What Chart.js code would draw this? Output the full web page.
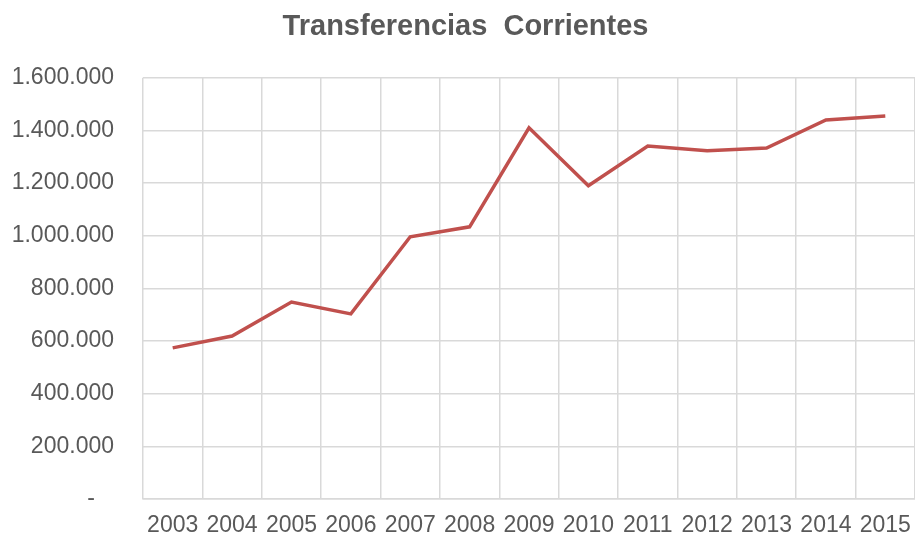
<!DOCTYPE html>
<html>
<head>
<meta charset="utf-8">
<script src="https://cdn.jsdelivr.net/npm/chart.js@4"></script>
<style>
  html, body { margin: 0; padding: 0; background: #fff; }
  #wrap { width: 915px; height: 538px; }
</style>
</head>
<body>
<div id="wrap"><canvas id="grafica" width="915" height="538"></canvas></div>
<script>
// datos
const anios = ['2003', '2004', '2005', '2006', '2007', '2008', '2009', '2010', '2011', '2012', '2013', '2014', '2015'];
const transferencias = [574000, 619000, 748000, 703000, 996000, 1034000, 1410000, 1190000, 1341000, 1323000, 1333000, 1440000, 1455000];
const ticksY = [0, 200000, 400000, 600000, 800000, 1000000, 1200000, 1400000, 1600000];

const gris = '#595959';

function formatoMiles(v) {
    if (v === 0) return '-   ';
    return v.toString().replace(/\B(?=(\d{3})+(?!\d))/g, '.');
}

const ctx = document.getElementById('grafica').getContext('2d');
new Chart(ctx, {
    type: 'line',
    data: {
        labels: anios,
        datasets: [{
            data: transferencias,
            borderColor: '#c0504d',
            borderWidth: 3.5,
            pointRadius: 0,
            tension: 0,
            fill: false
        }]
    },
    options: {
        responsive: false,
        animation: false,
        layout: { padding: { top: 10, left: 0, right: 0, bottom: 0 } },
        plugins: {
            legend: { display: false },
            tooltip: { enabled: false },
            title: {
                display: true,
                // espacios al inicio para centrar sobre el area del grafico
                text: '  Transferencias  Corrientes',
                color: gris,
                font: { family: 'Liberation Sans, Arial', size: 29, weight: 'bold' },
                padding: { top: 0, bottom: 33 }
            }
        },
        scales: {
            x: {
                offset: true,
                grid: { offset: true, color: '#d9d9d9', lineWidth: 1.5, drawTicks: false },
                border: { color: '#d9d9d9', width: 1.5 },
                ticks: {
                    color: gris,
                    font: { family: 'Liberation Sans, Arial', size: 23 },
                    padding: 13,
                    maxRotation: 0,
                    autoSkip: false
                },
                afterFit: s => { s.height = 39; s.paddingLeft = 0; s.paddingRight = 0; }
            },
            y: {
                min: 0,
                max: 1600000,
                afterBuildTicks: s => { s.ticks = ticksY.map(v => ({ value: v })); },
                grid: { color: '#d9d9d9', lineWidth: 1.5, drawTicks: false },
                border: { display: false },
                ticks: {
                    color: gris,
                    font: { family: 'Liberation Sans, Arial', size: 23 },
                    padding: 29,
                    callback: v => formatoMiles(v)
                },
                afterFit: s => { s.width = 143; s.paddingTop = 0; s.paddingBottom = 0; }
            }
        }
    }
});
</script>
</body>
</html>
